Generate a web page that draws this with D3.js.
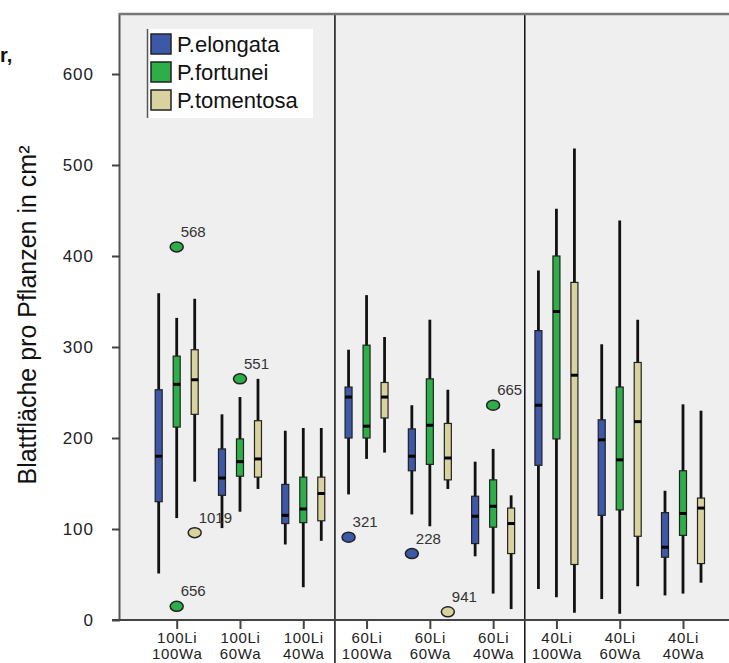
<!DOCTYPE html>
<html>
<head>
<meta charset="utf-8">
<script src="https://cdn.jsdelivr.net/npm/d3@7"></script>
<style>
  html, body { margin: 0; padding: 0; background: #fff; }
  svg { display: block; font-family: "Liberation Sans", Arial, sans-serif; }
</style>
</head>
<body>
<svg id="chart" width="729" height="663"></svg>
<script>
// Treatment groups (light level / water level)
const categories = ["100Li|100Wa", "100Li|60Wa", "100Li|40Wa",
                    "60Li|100Wa", "60Li|60Wa", "60Li|40Wa",
                    "40Li|100Wa", "40Li|60Wa", "40Li|40Wa"];
const seriesNames = ["P.elongata", "P.fortunei", "P.tomentosa"];
const seriesColors = ["#3c58a6", "#2eae48", "#d8d39e"];

// Box statistics per group: [whisker low, Q1, median, Q3, whisker high]
const elongataStats = [
  [51, 130, 180, 253, 359], [101, 137, 156, 188, 226], [83, 106, 115, 149, 208],
  [138, 200, 245, 256, 297], [116, 164, 180, 210, 236], [70, 84, 114, 136, 174],
  [34, 170, 236, 318, 384], [23, 115, 198, 220, 303], [27, 69, 80, 118, 142]
];
const fortuneiStats = [
  [112, 212, 259, 290, 332], [119, 158, 174, 199, 245], [36, 107, 122, 157, 211],
  [177, 200, 213, 302, 357], [103, 171, 214, 265, 330], [29, 102, 125, 154, 188],
  [25, 199, 339, 400, 452], [7, 121, 176, 256, 439], [29, 93, 117, 164, 237]
];
const tomentosaStats = [
  [152, 226, 264, 297, 353], [144, 157, 177, 219, 265], [87, 109, 139, 157, 211],
  [184, 222, 245, 261, 311], [144, 154, 178, 216, 253], [12, 73, 106, 123, 137],
  [8, 61, 269, 371, 518], [37, 92, 218, 283, 330], [41, 62, 123, 134, 230]
];
const statsBySeries = [elongataStats, fortuneiStats, tomentosaStats];

// Outliers: group index, series index, value, case number
const outlierGroup  = [0, 0, 0, 1, 3, 4, 4, 5];
const outlierSeries = [1, 1, 2, 1, 0, 0, 2, 1];
const outlierValue  = [410, 15, 96, 265, 91, 73, 9, 236];
const outlierCase   = ["568", "656", "1019", "551", "321", "228", "941", "665"];

const yTicks = [0, 100, 200, 300, 400, 500, 600];
const yTitle = "Blattfläche pro Pflanzen in cm²";

const svg = d3.select("#chart");
const W = 729, H = 663;
const plotLeft = 120, plotTop = 14, plotBottom = 620;

const y = d3.scaleLinear().domain([0, 600]).range([plotBottom, 74]);
const x = d3.scalePoint().domain(categories).range([176.7, 683]);
const xs = d3.scaleBand().domain(seriesNames).range([-27, 27]);
const color = d3.scaleOrdinal().domain(seriesNames).range(seriesColors);

// Plot background
svg.append("rect")
  .attr("x", plotLeft).attr("y", plotTop)
  .attr("width", W - plotLeft).attr("height", plotBottom - plotTop)
  .attr("fill", "#efefef");

// Separators between light levels
const step = x.step();
[2, 5].forEach(i => {
  const sx = x(categories[i]) + step / 2;
  svg.append("line")
    .attr("x1", sx).attr("x2", sx)
    .attr("y1", plotTop).attr("y2", H)
    .attr("stroke", "#111").attr("stroke-width", 1.5);
});

// Boxes
const boxW = 7;
statsBySeries.forEach((stats, si) => {
  const name = seriesNames[si];
  const g = svg.append("g");
  stats.forEach((s, ci) => {
    const cx = x(categories[ci]) + xs(name) + xs.bandwidth() / 2;
    g.append("line")
      .attr("x1", cx).attr("x2", cx)
      .attr("y1", y(s[0])).attr("y2", y(s[4]))
      .attr("stroke", "#111").attr("stroke-width", 2.8);
    g.append("rect")
      .attr("x", cx - boxW / 2).attr("y", y(s[3]))
      .attr("width", boxW).attr("height", y(s[1]) - y(s[3]))
      .attr("fill", color(name))
      .attr("stroke", "#222").attr("stroke-width", 1.2);
    g.append("line")
      .attr("x1", cx - boxW / 2).attr("x2", cx + boxW / 2)
      .attr("y1", y(s[2])).attr("y2", y(s[2]))
      .attr("stroke", "#000").attr("stroke-width", 3);
  });
});

// Outliers with case labels
outlierValue.forEach((v, i) => {
  const name = seriesNames[outlierSeries[i]];
  const cx = x(categories[outlierGroup[i]]) + xs(name) + xs.bandwidth() / 2;
  const cy = y(v);
  svg.append("ellipse")
    .attr("cx", cx).attr("cy", cy).attr("rx", 6.5).attr("ry", 5)
    .attr("fill", color(name)).attr("stroke", "#222").attr("stroke-width", 1.5);
  svg.append("text")
    .attr("x", cx + 4).attr("y", cy - 10)
    .attr("font-size", 15).attr("fill", "#333")
    .text(outlierCase[i]);
});

// Frame: left axis line, top border, baseline
svg.append("line")
  .attr("x1", plotLeft - 0.5).attr("x2", plotLeft - 0.5)
  .attr("y1", plotTop - 1).attr("y2", plotBottom)
  .attr("stroke", "#555").attr("stroke-width", 2);
svg.append("line")
  .attr("x1", plotLeft - 1).attr("x2", W)
  .attr("y1", plotTop).attr("y2", plotTop)
  .attr("stroke", "#777").attr("stroke-width", 2.5);
svg.append("line")
  .attr("x1", 112).attr("x2", W)
  .attr("y1", plotBottom).attr("y2", plotBottom)
  .attr("stroke", "#444").attr("stroke-width", 2);

// Y axis
const yAxis = svg.append("g")
  .attr("transform", `translate(${plotLeft},0)`)
  .call(d3.axisLeft(y).tickValues(yTicks).tickSize(8).tickPadding(18));
yAxis.select(".domain").remove();
yAxis.selectAll(".tick line").attr("stroke", "#444").attr("stroke-width", 2);
yAxis.selectAll(".tick text")
  .attr("font-size", 17).attr("fill", "#222")
  .attr("font-family", "Liberation Sans, Arial, sans-serif")
  .style("letter-spacing", "1px");

// X axis with two-line labels
const xAxis = svg.append("g")
  .attr("transform", `translate(0,${plotBottom})`)
  .call(d3.axisBottom(x).tickSize(9).tickFormat(""));
xAxis.select(".domain").remove();
xAxis.selectAll(".tick line").attr("stroke", "#444").attr("stroke-width", 2);
xAxis.selectAll(".tick").each(function (d) {
  const parts = d.split("|");
  const t = d3.select(this).append("text")
    .attr("text-anchor", "middle").attr("fill", "#222")
    .attr("font-size", 15)
    .attr("font-family", "Liberation Sans, Arial, sans-serif")
    .style("letter-spacing", "0.7px");
  t.append("tspan").attr("x", 0).attr("y", 23).text(parts[0]);
  t.append("tspan").attr("x", 0).attr("y", 39).text(parts[1]);
});

// Y axis title
svg.append("text")
  .attr("transform", "translate(36,315) rotate(-90)")
  .attr("text-anchor", "middle")
  .attr("font-size", 25).attr("fill", "#111")
  .text(yTitle);

// Trailing fragment of a heading to the left of the chart
svg.append("text")
  .attr("x", 0).attr("y", 62)
  .attr("font-size", 20).attr("font-weight", "bold").attr("fill", "#111")
  .text("r,");

// Legend
const lg = svg.append("g").attr("transform", "translate(147,29)");
lg.append("rect").attr("width", 166).attr("height", 89).attr("fill", "#fff");
lg.append("line").attr("x1", 0.5).attr("x2", 0.5).attr("y1", 0).attr("y2", 89)
  .attr("stroke", "#555").attr("stroke-width", 1.5);
seriesNames.forEach((name, i) => {
  lg.append("rect")
    .attr("x", 4).attr("y", 5 + i * 28)
    .attr("width", 20).attr("height", 20)
    .attr("fill", color(name)).attr("stroke", "#222").attr("stroke-width", 1.5);
  lg.append("text")
    .attr("x", 30).attr("y", 23 + i * 28)
    .attr("font-size", 22).attr("fill", "#111")
    .text(name);
});
</script>
</body>
</html>
